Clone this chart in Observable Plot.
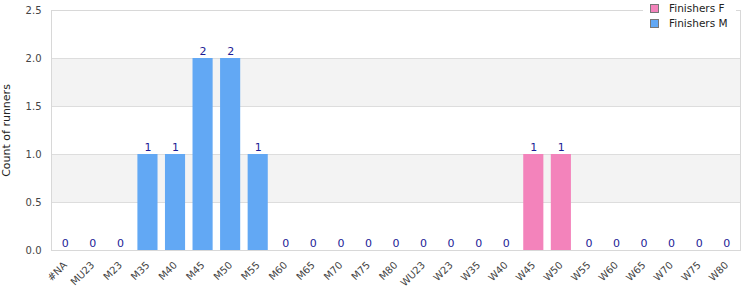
<!DOCTYPE html>
<html>
<head>
<meta charset="utf-8">
<script src="https://cdn.jsdelivr.net/npm/d3@7"></script>
<script src="https://cdn.jsdelivr.net/npm/@observablehq/plot@0.6"></script>
<style>
  body { margin: 0; background: #fff; font-family: "DejaVu Sans", sans-serif; }
  #wrap { position: relative; width: 750px; height: 300px; }
  #legend { position: absolute; left: 643px; top: 0px; width: 93px; height: 30px; background: #fff; font-size: 10.5px; color: #222; }
  .item { position: absolute; left: 7px; display: flex; align-items: center; height: 14px; }
  .sw { width: 7px; height: 7px; border: 1px solid #777; margin-right: 10px; }
</style>
</head>
<body>
<div id="wrap"></div>
<script>
const categories = ["#NA","MU23","M23","M35","M40","M45","M50","M55","M60","M65","M70","M75","M80",
  "WU23","W23","W35","W40","W45","W50","W55","W60","W65","W70","W75","W80"];
const finishersM = [0,0,0,1,1,2,2,1,0,0,0,0,0, 0,0,0,0,0,0,0,0,0,0,0,0];
const finishersF = [0,0,0,0,0,0,0,0,0,0,0,0,0, 0,0,0,0,1,1,0,0,0,0,0,0];
const seriesNames = ["Finishers F","Finishers M"];
const seriesColors = ["#f383bb","#62a8f4"];
const yTicks = [0,0.5,1,1.5,2,2.5];
const bands = [[0.5,1],[1.5,2]];

const data = categories.map((c,i) => ({
  category: c,
  series: c.startsWith("W") ? "Finishers F" : "Finishers M",
  count: finishersM[i] + finishersF[i]
}));

const chart = Plot.plot({
  width: 750, height: 300,
  marginLeft: 51, marginRight: 10, marginTop: 10, marginBottom: 50,
  style: { fontFamily: "DejaVu Sans, sans-serif", fontSize: "10px", color: "#444", background: "#fff" },
  x: { domain: categories, paddingInner: 0.27, paddingOuter: 0.135, round: false },
  y: { domain: [0, 2.5] },
  color: { domain: seriesNames, range: seriesColors },
  marks: [
    Plot.rect(bands, { y1: d => d[0], y2: d => d[1], fill: "#f3f3f3" }),
    Plot.ruleY(yTicks, { stroke: "#dddddd" }),
    Plot.barY(data, { x: "category", y: "count", fill: "series" }),
    Plot.text(data, { x: "category", y: "count", text: d => String(d.count), lineAnchor: "bottom", dy: -4, fill: "#1c1c96", fontSize: 11 }),
    Plot.frame({ stroke: "#d8d8d8" }),
    Plot.axisY({ ticks: yTicks, tickFormat: d3.format(".1f"), tickSize: 0, tickPadding: 10, label: null, fill: "#444", fontSize: 10 }),
    Plot.axisX({ tickRotate: -45, tickSize: 0, tickPadding: 13, label: null, fill: "#444", fontSize: 10 }),
    Plot.text(["Count of runners"], { frameAnchor: "left", textAnchor: "middle", rotate: -90, dx: -45, fill: "#222", fontSize: 11 })
  ]
});

const wrap = document.getElementById("wrap");
wrap.appendChild(chart);
const legend = document.createElement("div");
legend.id = "legend";
seriesNames.forEach((name, i) => {
  const item = document.createElement("div");
  item.className = "item";
  item.style.top = (1 + i * 15) + "px";
  const sw = document.createElement("span");
  sw.className = "sw";
  sw.style.background = seriesColors[i];
  item.appendChild(sw);
  item.appendChild(document.createTextNode(name));
  legend.appendChild(item);
});
wrap.appendChild(legend);
</script>
</body>
</html>
